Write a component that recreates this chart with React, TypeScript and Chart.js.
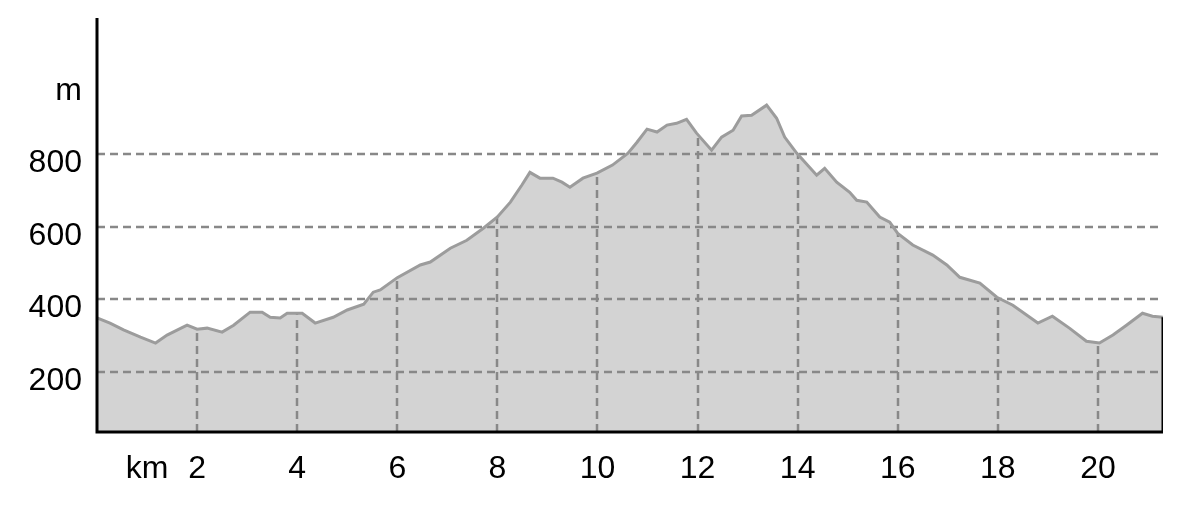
import React, { useEffect, useRef } from "react";
import Chart from "chart.js/auto";

const kmValues = [
  0, 0.26, 0.53, 0.87, 1.17, 1.4, 1.8, 2.0, 2.2, 2.5, 2.73, 3.06, 3.3, 3.46, 3.66, 3.8, 4.1, 4.36, 4.72, 5.0,
  5.33, 5.52, 5.66, 6.0, 6.46, 6.66, 7.06, 7.39, 7.72, 8.0, 8.26, 8.49, 8.65, 8.85, 9.11, 9.29, 9.45, 9.71, 9.99,
  10.3, 10.61, 10.79, 10.99, 11.19, 11.39, 11.58, 11.78, 11.98, 12.28, 12.48, 12.71, 12.88, 13.08, 13.38, 13.58,
  13.74, 13.98, 14.38, 14.54, 14.78, 15.04, 15.18, 15.38, 15.64, 15.84, 16.0, 16.3, 16.7, 16.98, 17.24, 17.64,
  17.98, 18.3, 18.8, 19.09, 19.43, 19.77, 20.03, 20.3, 20.57, 20.89, 21.09, 21.3,
];
const elevations = [
  349, 335, 316, 296, 280, 302, 329, 318, 321, 310, 329, 365, 365, 351, 349, 362, 362, 335, 351, 371,
  387, 420, 426, 460, 495, 503, 541, 563, 596, 627, 668, 715, 750, 734, 734, 723, 709, 734, 748,
  770, 803, 833, 869, 861, 880, 885, 896, 858, 811, 847, 866, 905, 907, 935, 899,
  847, 803, 742, 761, 723, 695, 673, 668, 627, 613, 582, 550, 522, 495, 461, 445,
  406, 384, 335, 354, 321, 285, 280, 302, 329, 362, 354, 351,
];
const xTicks = [2, 4, 6, 8, 10, 12, 14, 16, 18, 20];
const yTicks = [200, 400, 600, 800];
const xUnitLabel = "km";
const xUnitAt = 1;
const yUnitLabel = "m";
const yUnitAt = 1000;
const xMin = 0;
const xMax = 21.3;
const yMin = 35;
const yMax = 1175;

const FONT = "32px 'Liberation Sans', Arial, sans-serif";
const GRID_COLOR = "#888888";

function profileAt(x: number): number {
  for (let i = 0; i < kmValues.length - 1; i++) {
    const a = kmValues[i];
    const b = kmValues[i + 1];
    if (x >= a && x <= b) {
      const t = (x - a) / (b - a);
      return elevations[i] + t * (elevations[i + 1] - elevations[i]);
    }
  }
  return elevations[elevations.length - 1];
}

const gridPlugin = {
  id: "profileGrid",
  afterDatasetDraw(chart: any, args: any) {
    if (args.index !== 0) return;
    const { ctx, chartArea } = chart;
    const xs = chart.scales.x;
    const ys = chart.scales.y;
    ctx.save();
    ctx.strokeStyle = GRID_COLOR;
    ctx.lineWidth = 2.5;
    ctx.setLineDash([8, 5]);
    yTicks.forEach((v) => {
      const y = Math.round(ys.getPixelForValue(v));
      ctx.beginPath();
      ctx.moveTo(chartArea.left, y);
      ctx.lineTo(chartArea.right, y);
      ctx.stroke();
    });
    xTicks.forEach((v) => {
      const x = Math.round(xs.getPixelForValue(v));
      const top = ys.getPixelForValue(profileAt(v));
      ctx.beginPath();
      ctx.moveTo(x, chartArea.bottom);
      ctx.lineTo(x, top);
      ctx.stroke();
    });
    ctx.restore();
  },
  afterDraw(chart: any) {
    const { ctx, chartArea } = chart;
    const xs = chart.scales.x;
    const ys = chart.scales.y;
    ctx.save();
    ctx.strokeStyle = "#000";
    ctx.lineWidth = 3;
    ctx.setLineDash([]);
    ctx.beginPath();
    ctx.moveTo(chartArea.left, chartArea.top);
    ctx.lineTo(chartArea.left, chartArea.bottom);
    ctx.lineTo(chartArea.right, chartArea.bottom);
    ctx.stroke();

    ctx.fillStyle = "#000";
    ctx.font = FONT;
    ctx.textBaseline = "alphabetic";
    ctx.textAlign = "right";
    const labelRight = chartArea.left - 15;
    yTicks.forEach((v) => {
      ctx.fillText(String(v), labelRight, ys.getPixelForValue(v) + 18);
    });
    ctx.fillText(yUnitLabel, labelRight, ys.getPixelForValue(yUnitAt) + 18);

    ctx.textAlign = "center";
    const base = chartArea.bottom + 46;
    xTicks.forEach((v) => {
      ctx.fillText(String(v), xs.getPixelForValue(v), base);
    });
    ctx.fillText(xUnitLabel, xs.getPixelForValue(xUnitAt), base);
    ctx.restore();
  },
};

export default function App() {
  const ref = useRef<HTMLCanvasElement>(null);
  useEffect(() => {
    document.body.style.margin = "0";
    const points = kmValues.map((x, i) => ({ x, y: elevations[i] }));
    const last = elevations[elevations.length - 1];
    const chart = new Chart(ref.current as HTMLCanvasElement, {
      type: "line",
      data: {
        datasets: [
          {
            data: points,
            fill: "start",
            backgroundColor: "#d3d3d3",
            borderWidth: 0,
            pointRadius: 0,
            order: 3,
          } as any,
          {
            data: points,
            fill: false,
            borderColor: "#9c9c9c",
            borderWidth: 3,
            pointRadius: 0,
            order: 2,
          },
          {
            data: [
              { x: xMax, y: yMin },
              { x: xMax, y: last },
            ],
            fill: false,
            borderColor: "#000",
            borderWidth: 3,
            pointRadius: 0,
            order: 1,
          },
        ],
      },
      options: {
        responsive: false,
        animation: false,
        events: [],
        layout: { padding: { left: 97, top: 18, right: 29, bottom: 91 } },
        scales: {
          x: { type: "linear", min: xMin, max: xMax, display: false },
          y: { type: "linear", min: yMin, max: yMax, display: false },
        },
        plugins: { legend: { display: false }, tooltip: { enabled: false } },
      },
      plugins: [gridPlugin],
    });
    return () => chart.destroy();
  }, []);
  return (
    <div style={{ width: 1192, height: 523 }}>
      <canvas ref={ref} width={1192} height={523} style={{ display: "block" }} />
    </div>
  );
}
